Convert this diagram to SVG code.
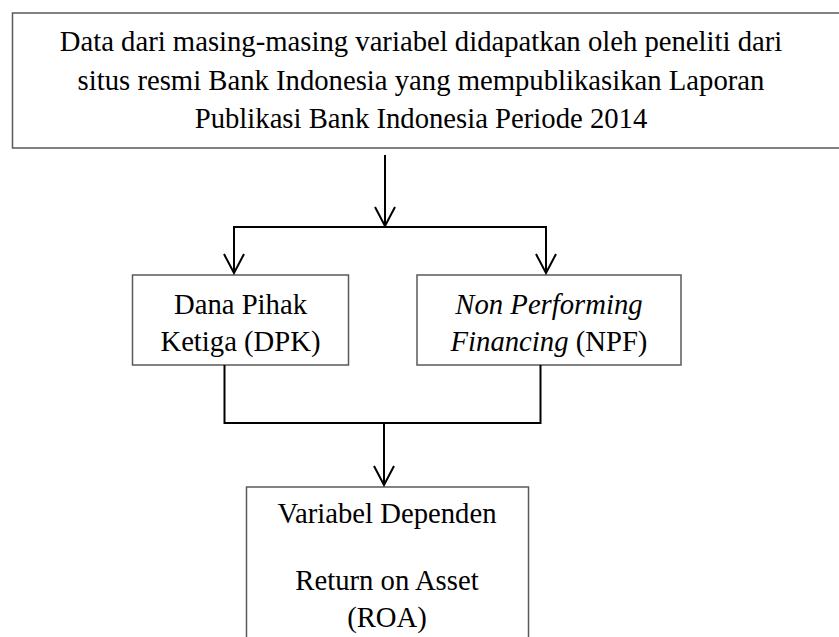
<svg xmlns="http://www.w3.org/2000/svg" width="839" height="637" viewBox="0 0 839 637">
<style>
.box{fill:#fff;stroke:#595959;stroke-width:1.5}
.t{font-family:"Liberation Serif","Times New Roman",serif;font-size:28.7px;fill:#000;text-anchor:middle}
.c{fill:none;stroke:#000;stroke-width:2}
.i{font-style:italic}
</style>
<defs>
<marker id="arr" markerUnits="userSpaceOnUse" markerWidth="24" markerHeight="22" refX="11" refY="20" orient="0" viewBox="0 0 22 22">
<path d="M1,1 L11,20 L21,1" fill="none" stroke="#000" stroke-width="2"/>
</marker>
</defs>
<rect width="839" height="637" fill="#fff"/>
<g id="source">
<rect class="box" x="12.5" y="13" width="840" height="135"/>
<text class="t" x="421" y="51">Data dari masing-masing variabel didapatkan oleh peneliti dari</text>
<text class="t" x="421" y="89.5">situs resmi Bank Indonesia yang mempublikasikan Laporan</text>
<text class="t" x="421" y="128">Publikasi Bank Indonesia Periode 2014</text>
</g>
<g id="dpk">
<rect class="box" x="132.5" y="275" width="216" height="90"/>
<text class="t" x="240.5" y="314">Dana Pihak</text>
<text class="t" x="240.5" y="351">Ketiga (DPK)</text>
</g>
<g id="npf">
<rect class="box" x="417" y="275" width="264" height="90"/>
<text class="t" x="549" y="314"><tspan class="i">Non Performing</tspan></text>
<text class="t" x="549" y="351"><tspan class="i">Financing</tspan> (NPF)</text>
</g>
<g id="roa">
<rect class="box" x="246.5" y="487" width="282" height="200"/>
<text class="t" x="387" y="523">Variabel Dependen</text>
<text class="t" x="387" y="590">Return on Asset</text>
<text class="t" x="387" y="627">(ROA)</text>
</g>
<g id="connectors">
<line class="c" x1="385" y1="155" x2="385" y2="226" marker-end="url(#arr)"/>
<polyline class="c" points="234,273 234,227 546,227 546,273"/>
<line class="c" x1="234" y1="230" x2="234" y2="273" marker-end="url(#arr)"/>
<line class="c" x1="546" y1="230" x2="546" y2="273" marker-end="url(#arr)"/>
<polyline class="c" points="224.5,365 224.5,423 540.5,423 540.5,365"/>
<line class="c" x1="384" y1="423" x2="384" y2="485" marker-end="url(#arr)"/>
</g>
</svg>
